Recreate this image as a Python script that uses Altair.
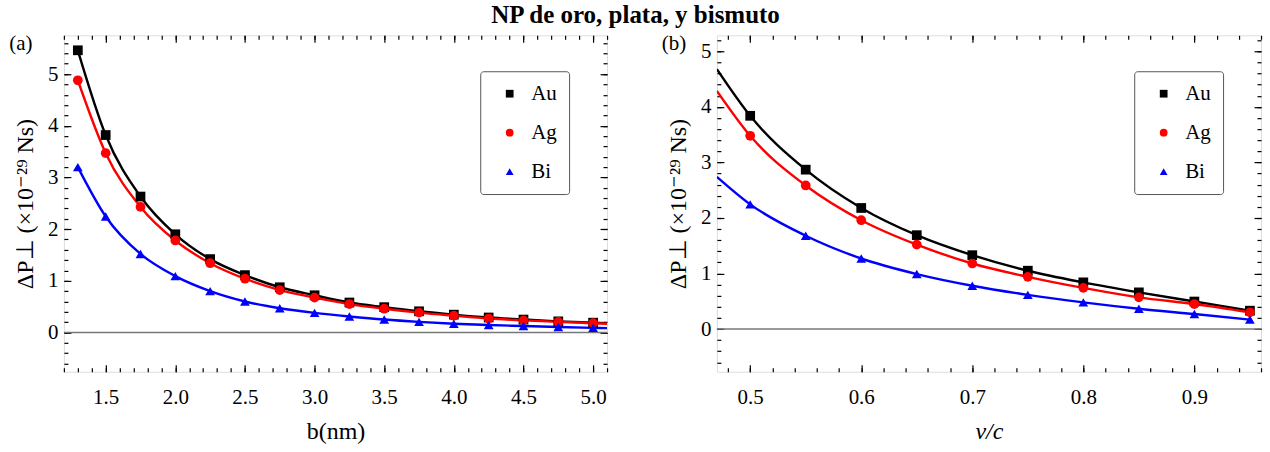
import altair as alt
import pandas as pd
import numpy as np

FONT = "Liberation Serif"

series = ["Au", "Ag", "Bi"]
colors = ["#000000", "#ff0000", "#0000ff"]
shapes = ["square", "circle", "triangle-up"]

# Panel (a): vs impact parameter b (nm)
b_vals = [1.3, 1.5, 1.75, 2.0, 2.25, 2.5, 2.75, 3.0, 3.25, 3.5, 3.75, 4.0, 4.25, 4.5, 4.75, 5.0]
au_b = [5.46, 3.82, 2.63, 1.90, 1.42, 1.11, 0.875, 0.72, 0.58, 0.49, 0.41, 0.345, 0.29, 0.25, 0.215, 0.19]
ag_b = [4.88, 3.47, 2.43, 1.78, 1.34, 1.04, 0.82, 0.675, 0.55, 0.46, 0.385, 0.325, 0.27, 0.235, 0.205, 0.18]
bi_b = [3.20, 2.245, 1.52, 1.09, 0.80, 0.60, 0.47, 0.38, 0.31, 0.25, 0.205, 0.17, 0.145, 0.125, 0.105, 0.09]
# curve end read at the right frame edge
b_end = 5.1
end_b = [0.18, 0.17, 0.085]

# Panel (b): vs v/c
v_vals = [0.5, 0.55, 0.6, 0.65, 0.7, 0.75, 0.8, 0.85, 0.9, 0.95]
au_v = [3.84, 2.87, 2.18, 1.69, 1.33, 1.05, 0.84, 0.66, 0.495, 0.33]
ag_v = [3.48, 2.585, 1.96, 1.52, 1.18, 0.94, 0.74, 0.57, 0.45, 0.30]
bi_v = [2.245, 1.68, 1.27, 0.99, 0.78, 0.615, 0.48, 0.365, 0.27, 0.17]
# curve start read at the left frame edge
v_start = 0.47
start_v = [4.68, 4.29, 2.74]

zero_line = [0]
panel_labels = ["(a)", "(b)"]
x_ticks_a = [1.5, 2.0, 2.5, 3.0, 3.5, 4.0, 4.5, 5.0]
x_ticks_b = [0.5, 0.6, 0.7, 0.8, 0.9]
y_ticks = [0, 1, 2, 3, 4, 5]
title_text = "NP de oro, plata, y bismuto"
y_title = "ΔP⊥ (×10⁻²⁹ Ns)"


def long_df(xs, ys_list):
    rows = []
    for s, ys in zip(series, ys_list):
        for x, y in zip(xs, ys):
            rows.append({"x": x, "y": y, "s": s})
    return pd.DataFrame(rows)


pts_a = long_df(b_vals, [au_b, ag_b, bi_b])
crv_a = long_df(b_vals + [b_end], [au_b + [end_b[0]], ag_b + [end_b[1]], bi_b + [end_b[2]]])
pts_b = long_df(v_vals, [au_v, ag_v, bi_v])
crv_b = long_df([v_start] + v_vals, [[start_v[0]] + au_v, [start_v[1]] + ag_v, [start_v[2]] + bi_v])

W_A, W_B, H = 544, 545, 337
MAJ, MIN = 7, 4


def panel(pts, crv, xdom, ydom, xmaj, xminor, ymaj, yminor, xtitle, xstyle, label, w, h):
    xs = alt.Scale(domain=xdom, nice=False, zero=False)
    ys = alt.Scale(domain=ydom, nice=False, zero=False)

    def ax(orient, values, size, labels=False, title=None, fmt=None, lpad=5, extra=None):
        kw = dict(orient=orient, values=values, tickSize=size, offset=-size, ticks=True,
                  tickColor="black", tickWidth=1.2, domain=False, grid=False, labels=labels,
                  title=title)
        if labels:
            kw.update(labelFont=FONT, labelFontSize=21, labelColor="black", labelPadding=lpad,
                      format=fmt, labelFlush=False)
        if extra:
            kw.update(extra)
        return alt.Axis(**kw)

    xaxes = [
        ax("bottom", xmaj, MAJ, True, xtitle, ".1f", lpad=15,
           extra=dict(titleFont=FONT, titleFontSize=24, titleFontWeight="normal",
                      titleFontStyle=xstyle, titleColor="black", titleBaseline="middle",
                      titleY=(436 - 39) - (h - MAJ))),
        ax("bottom", xminor, MIN),
        ax("top", xmaj, MAJ),
        ax("top", xminor, MIN),
    ]
    yaxes = [
        ax("left", ymaj, MAJ, True, y_title, "d", lpad=6,
           extra=dict(titleFont=FONT, titleFontSize=24, titleFontWeight="normal",
                      titleColor="black", titleAngle=270, titleBaseline="middle",
                      titleAlign="center", titleX=-38 - MAJ, titleY=h / 2)),
        ax("left", yminor, MIN),
        ax("right", ymaj, MAJ),
        ax("right", yminor, MIN),
    ]

    legend = alt.Legend(orient="none", legendX=w - 127, legendY=36, title=None,
                        padding=12, fillColor="white", strokeColor="#555", cornerRadius=3,
                        symbolSize=60, symbolStrokeWidth=0, labelFont=FONT, labelFontSize=21,
                        labelColor="black", rowPadding=17, symbolOffset=7, labelOffset=11,
                        labelExpr="datum.label + '\u00a0\u00a0'")
    cscale = alt.Scale(domain=series, range=colors)
    sscale = alt.Scale(domain=series, range=shapes)

    zero = alt.Chart(pd.DataFrame({"y": zero_line})).mark_rule(
        color="#777777", strokeWidth=1.3).encode(y=alt.Y("y:Q", scale=ys, axis=None))

    points = alt.Chart(pts).mark_point(filled=True, size=95, opacity=1).encode(
        x=alt.X("x:Q", scale=xs, axis=None),
        y=alt.Y("y:Q", scale=ys, axis=None),
        color=alt.Color("s:N", scale=cscale, legend=legend),
        shape=alt.Shape("s:N", scale=sscale, legend=legend),
    )
    lines = [
        alt.Chart(crv).transform_filter(alt.datum.s == s).mark_line(
            color=c, strokeWidth=2.4, interpolate="monotone", clip=True).encode(
            x=alt.X("x:Q", scale=xs, axis=None),
            y=alt.Y("y:Q", scale=ys, axis=None),
        )
        for s, c in zip(series, colors)
    ]
    axis_layers = [
        alt.Chart(pts).mark_point(opacity=0).encode(
            x=alt.X("x:Q", scale=xs, axis=xa), y=alt.Y("y:Q", scale=ys, axis=ya))
        for xa, ya in zip(xaxes, yaxes)
    ]
    txt = alt.Chart(pd.DataFrame({"t": [label]})).mark_text(
        font=FONT, fontSize=21, align="center", baseline="middle", color="black").encode(
        text="t:N", x=alt.value(-43), y=alt.value(9))

    return alt.layer(zero, *lines, points, *axis_layers, txt).resolve_axis(
        x="independent", y="independent").properties(width=w, height=h)


left = panel(pts_a, crv_a, [1.2, 5.1], [-0.76, 5.75], x_ticks_a,
             list(np.round(np.arange(1.2, 5.11, 0.1), 2)), y_ticks,
             list(np.round(np.arange(-0.6, 5.71, 0.2), 2)), "b(nm)", "normal",
             panel_labels[0], W_A, H)
right = panel(pts_b, crv_b, [0.47, 0.96], [-0.77, 5.29], x_ticks_b,
              list(np.round(np.arange(0.48, 0.961, 0.02), 2)), y_ticks,
              list(np.round(np.arange(-0.6, 5.21, 0.2), 2)), "v/c", "italic",
              panel_labels[1], W_B, H)

chart = alt.hconcat(left, right, spacing=110, bounds="flush").resolve_scale(
    x="independent", y="independent", color="independent", shape="independent"
).resolve_legend(color="independent", shape="independent").properties(
    title=alt.TitleParams(text=title_text, font=FONT, fontSize=25, fontWeight="bold",
                          anchor="middle", frame="bounds", offset=5, color="black"),
    padding={"left": 8, "top": 2, "right": 7, "bottom": 2},
).configure_view(stroke="black", strokeWidth=1.6).configure(background="white")

chart.save("out.html", embed_options={"renderer": "svg", "actions": False})
